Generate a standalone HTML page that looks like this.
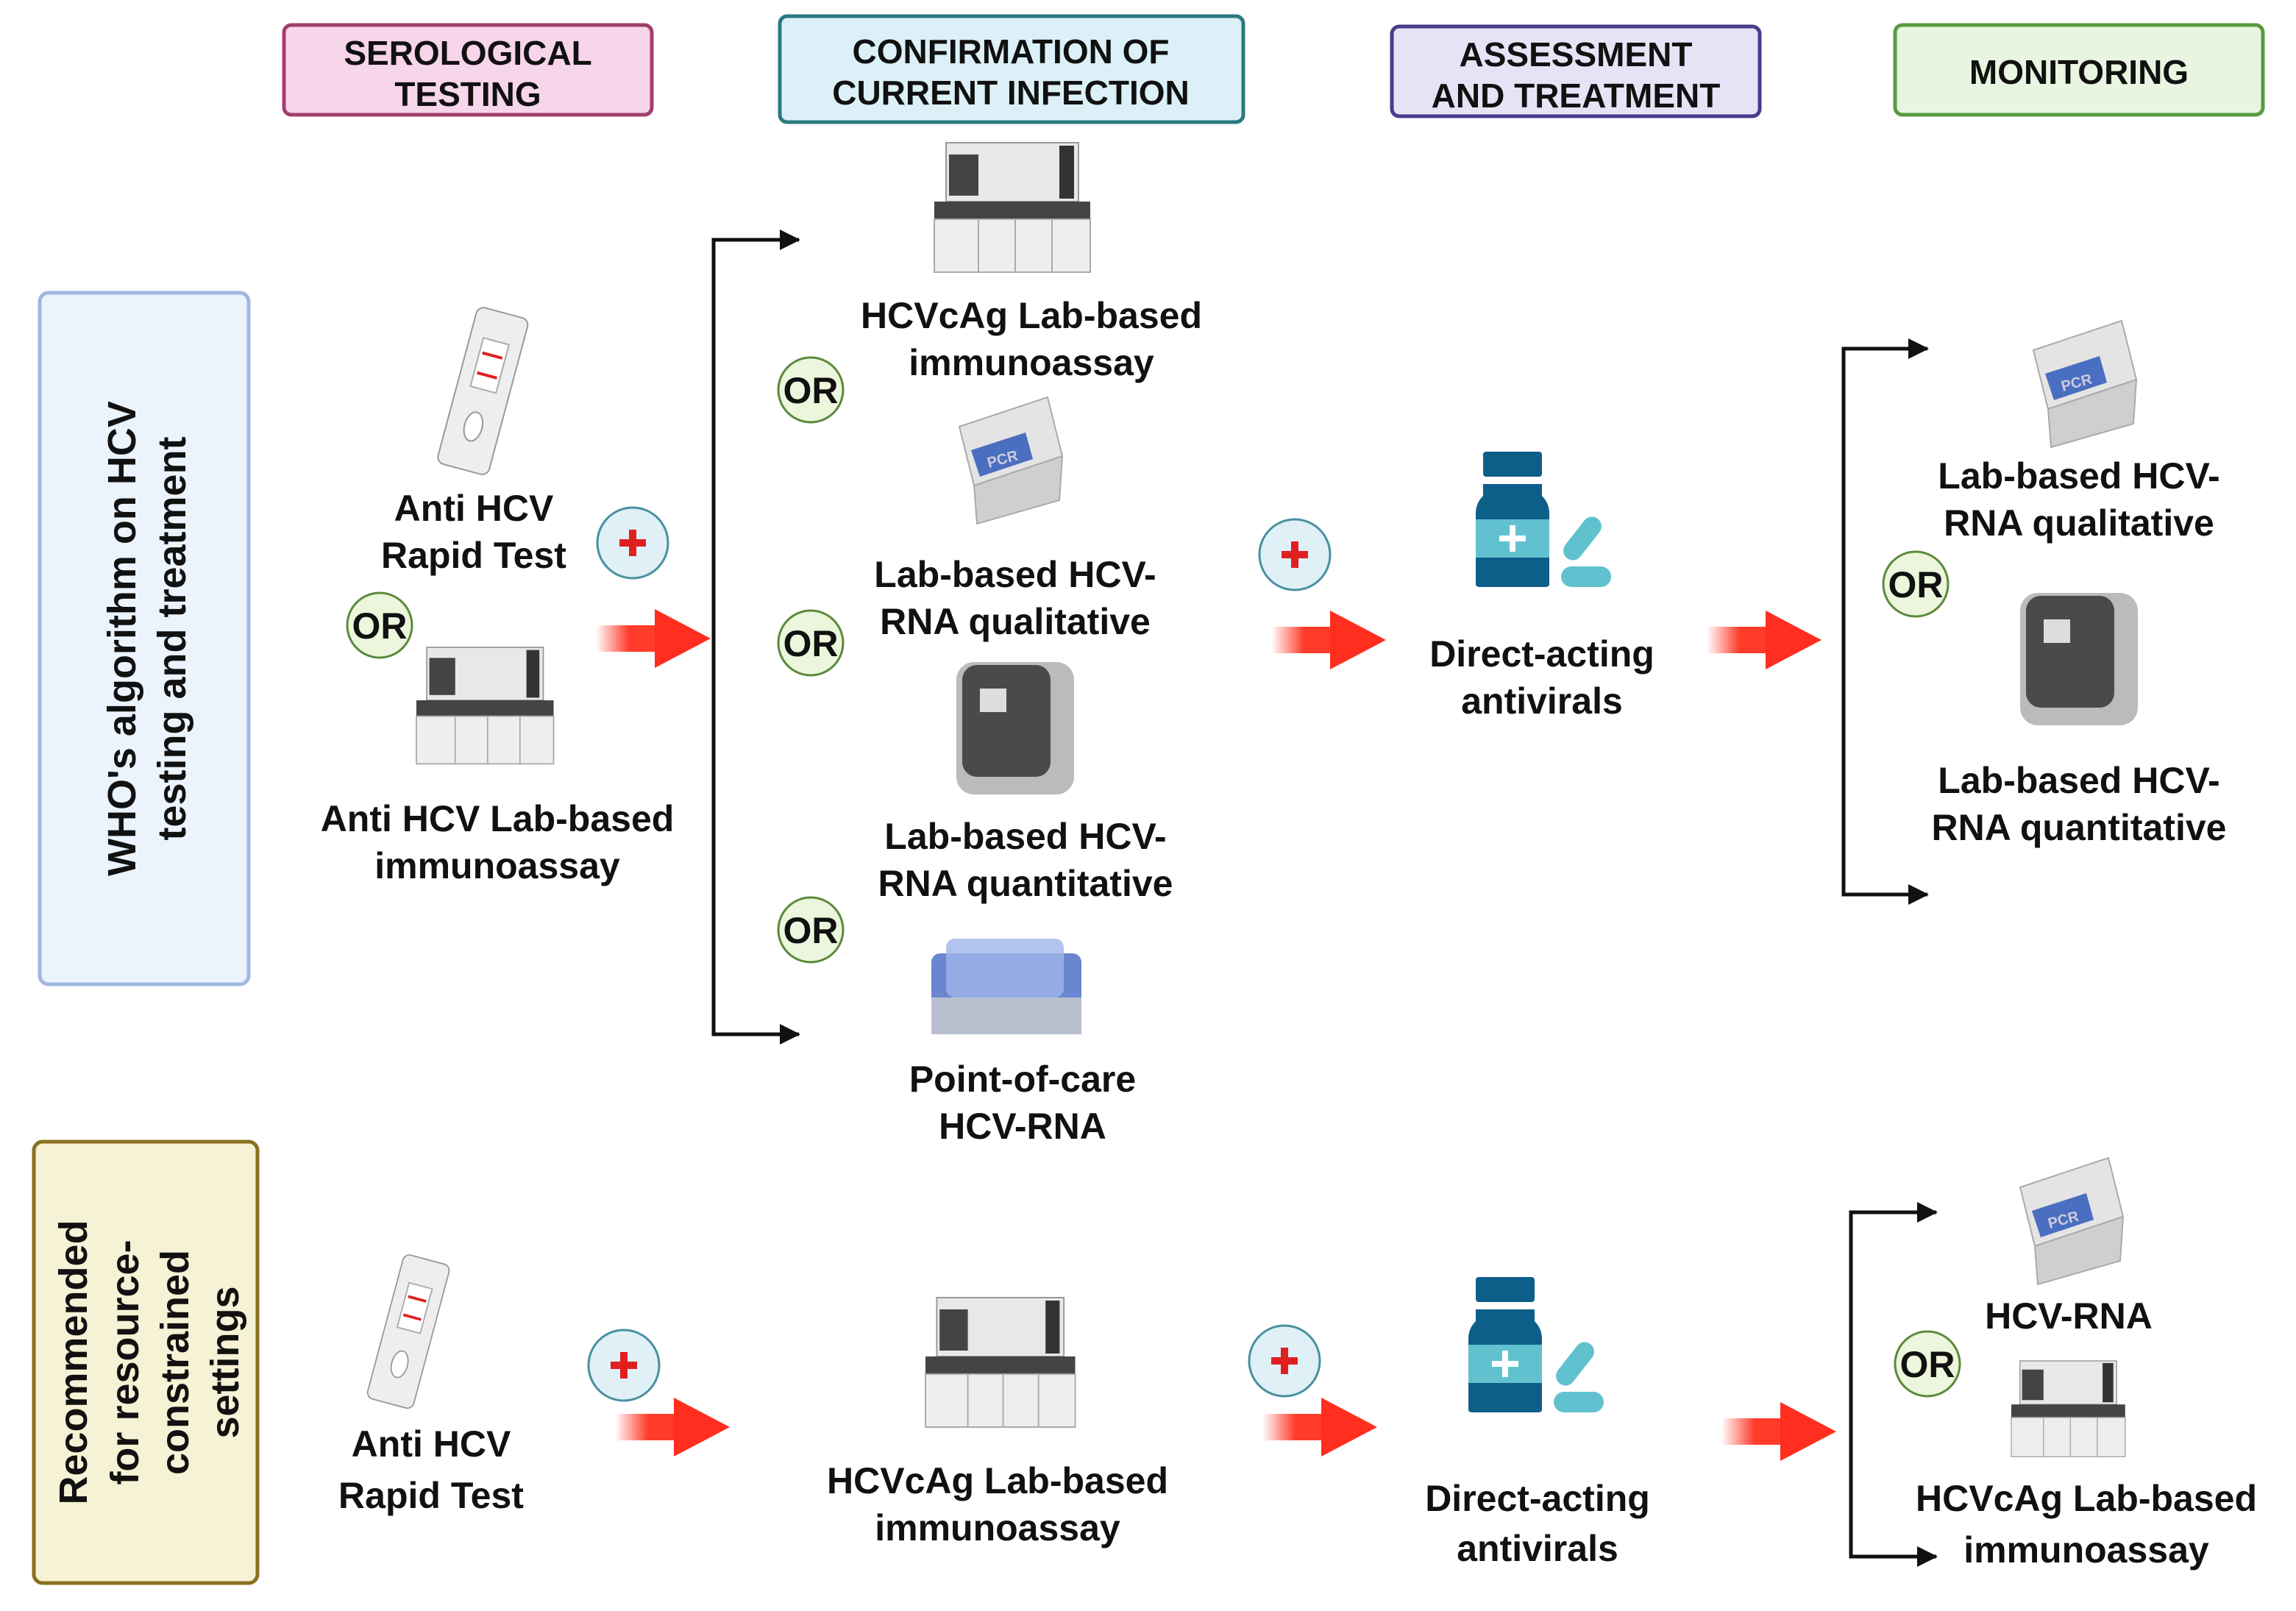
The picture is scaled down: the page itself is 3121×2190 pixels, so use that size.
<!DOCTYPE html>
<html><head><meta charset="utf-8"><style>html,body{margin:0;padding:0;background:#fff}svg{display:block}text{font-family:"Liberation Sans",sans-serif;font-weight:bold;fill:#111}</style></head><body>
<svg width="3121" height="2190" viewBox="0 0 1560.5 1095" xmlns="http://www.w3.org/2000/svg">
<defs>
<linearGradient id="rg" x1="0" x2="1"><stop offset="0" stop-color="#ff3b2a" stop-opacity="0"/><stop offset="0.5" stop-color="#ff3b2a"/></linearGradient>
<g id="redarr"><rect x="0" y="-9" width="45" height="18" fill="url(#rg)"/><polygon points="40,-20 78,0 40,20" fill="#ff2e1f"/></g>
<g id="or"><circle r="22" fill="#ecf6dc" stroke="#5a8a3a" stroke-width="1.5"/><text text-anchor="middle" y="9" font-size="25">OR</text></g>
<g id="plus"><circle r="24" fill="#dff0f7" stroke="#4a90a0" stroke-width="1.5"/><rect x="-9" y="-2.5" width="18" height="5" fill="#e02020"/><rect x="-2.5" y="-9" width="5" height="18" fill="#e02020"/></g>
<g id="analyzer"><rect x="8" y="0" width="90" height="40" fill="#e8e8e8" stroke="#999"/><rect x="10" y="8" width="20" height="28" fill="#444"/><rect x="85" y="2" width="10" height="36" fill="#333"/><rect x="0" y="40" width="106" height="12" fill="#444"/><rect x="0" y="52" width="106" height="36" fill="#eee" stroke="#aaa"/><line x1="30" y1="52" x2="30" y2="88" stroke="#aaa"/><line x1="55" y1="52" x2="55" y2="88" stroke="#aaa"/><line x1="80" y1="52" x2="80" y2="88" stroke="#aaa"/></g>
<g id="pcr"><polygon points="10,20 70,0 80,40 20,60" fill="#e4e4e4" stroke="#aaa"/><polygon points="20,60 80,40 78,70 22,86" fill="#cfcfcf" stroke="#aaa"/><polygon points="18,36 55,24 60,42 24,54" fill="#4a6ec0"/><text x="30" y="48" font-size="10" transform="rotate(-15 30 48)" style="fill:#ccd">PCR</text></g>
<g id="quant"><rect x="0" y="0" width="80" height="90" rx="12" fill="#bbb"/><rect x="4" y="2" width="60" height="76" rx="10" fill="#4a4a4a"/><rect x="16" y="18" width="18" height="16" fill="#ddd"/></g>
<g id="rapid"><rect x="0" y="0" width="36" height="110" rx="5" fill="#eee" stroke="#999"/><rect x="9" y="20" width="18" height="34" fill="#fff" stroke="#aaa"/><line x1="11" y1="30" x2="25" y2="30" stroke="#e02020" stroke-width="2"/><line x1="11" y1="44" x2="25" y2="44" stroke="#e02020" stroke-width="2"/><ellipse cx="18" cy="80" rx="6" ry="10" fill="#fff" stroke="#999"/></g>
<g id="drug"><rect x="5" y="0" width="40" height="17" rx="2" fill="#0d5f8a"/><path d="M5 22 H45 V30 Q50 35 50 42 V90 Q50 92 47 92 H3 Q0 92 0 90 V42 Q0 35 5 30Z" fill="#0d5f8a"/><rect x="0" y="46" width="50" height="26" fill="#62c1cf"/><rect x="23" y="50" width="4" height="18" fill="#fff"/><rect x="16" y="57" width="18" height="4" fill="#fff"/><rect x="66" y="42" width="13" height="34" rx="6.5" fill="#62c1cf" transform="rotate(38 72.5 59)"/><rect x="58" y="78" width="34" height="14" rx="7" fill="#62c1cf"/></g>
</defs>
<rect x="193" y="17" width="250" height="61" rx="5" fill="#f7d5ea" stroke="#a0406a" stroke-width="2.5"/>
<text x="318" y="44" text-anchor="middle" font-size="23">SEROLOGICAL</text><text x="318" y="72" text-anchor="middle" font-size="23">TESTING</text>
<rect x="530" y="11" width="315" height="72" rx="5" fill="#dcf1f7" stroke="#2a7a80" stroke-width="2.5"/>
<text x="687" y="43" text-anchor="middle" font-size="23">CONFIRMATION OF</text><text x="687" y="71" text-anchor="middle" font-size="23">CURRENT INFECTION</text>
<rect x="946" y="18" width="250" height="61" rx="5" fill="#e6e3f7" stroke="#4a3a8a" stroke-width="2.5"/>
<text x="1071" y="45" text-anchor="middle" font-size="23">ASSESSMENT</text><text x="1071" y="73" text-anchor="middle" font-size="23">AND TREATMENT</text>
<rect x="1288" y="17" width="250" height="61" rx="5" fill="#e8f5e0" stroke="#5a9a40" stroke-width="2.5"/>
<text x="1413" y="57" text-anchor="middle" font-size="23">MONITORING</text>
<rect x="27" y="199" width="142" height="470" rx="6" fill="#ebf3fc" stroke="#a0b8e0" stroke-width="2.5"/>
<text transform="translate(92 434) rotate(-90)" text-anchor="middle" font-size="27">WHO's algorithm on HCV</text>
<text transform="translate(126 434) rotate(-90)" text-anchor="middle" font-size="27">testing and treatment</text>
<rect x="23" y="776" width="152" height="300" rx="6" fill="#f5f2d5" stroke="#8a7020" stroke-width="2.5"/>
<text transform="translate(59 926) rotate(-90)" text-anchor="middle" font-size="27">Recommended</text>
<text transform="translate(94 926) rotate(-90)" text-anchor="middle" font-size="27">for resource-</text>
<text transform="translate(128 926) rotate(-90)" text-anchor="middle" font-size="27">constrained</text>
<text transform="translate(162 926) rotate(-90)" text-anchor="middle" font-size="27">settings</text>
<g stroke="#111" stroke-width="2.5" fill="none"><path d="M543 163 H485 V703 H543"/><path d="M1310 237 H1253 V608 H1310"/><path d="M1316 824 H1258 V1058 H1316"/></g>
<g fill="#111"><polygon points="530,156 544,163 530,170"/><polygon points="530,696 544,703 530,710"/><polygon points="1297,230 1311,237 1297,244"/><polygon points="1297,601 1311,608 1297,615"/><polygon points="1303,817 1317,824 1303,831"/><polygon points="1303,1051 1317,1058 1303,1065"/></g>
<use href="#redarr" x="405" y="434"/><use href="#redarr" x="864" y="435"/><use href="#redarr" x="1160" y="435"/><use href="#redarr" x="418" y="970"/><use href="#redarr" x="858" y="970"/><use href="#redarr" x="1170" y="973"/>
<use href="#or" x="258" y="425"/><use href="#or" x="551" y="265"/><use href="#or" x="551" y="437"/><use href="#or" x="551" y="632"/><use href="#or" x="1302" y="397"/><use href="#or" x="1310" y="927"/>
<use href="#plus" x="430" y="369"/><use href="#plus" x="880" y="377"/><use href="#plus" x="424" y="928"/><use href="#plus" x="873" y="925"/>
<use href="#analyzer" transform="translate(635 97)"/>
<use href="#analyzer" transform="translate(283 440) scale(0.88 0.9)"/>
<use href="#analyzer" transform="translate(629 882) scale(0.96 1)"/>
<use href="#analyzer" transform="translate(1367 925) scale(0.73 0.74)"/>
<use href="#pcr" transform="translate(642 270)"/><use href="#pcr" transform="translate(1372 218)"/><use href="#pcr" transform="translate(1363 787)"/>
<use href="#quant" transform="translate(650 450)"/><use href="#quant" transform="translate(1373 403)"/>
<g transform="translate(633 638)"><rect x="0" y="10" width="102" height="52" rx="6" fill="#6a86cf"/><rect x="0" y="40" width="102" height="25" fill="#b8c0d0"/><rect x="10" y="0" width="80" height="40" rx="6" fill="#9fb4e8" opacity="0.8"/></g>
<use href="#rapid" transform="translate(325 208) rotate(15)"/>
<use href="#rapid" transform="translate(275 852) rotate(15) scale(0.9 0.92)"/>
<use href="#drug" transform="translate(1003 307)"/><use href="#drug" transform="translate(998 868)"/>
<g font-size="25" text-anchor="middle">
<text x="322" y="354">Anti HCV</text><text x="322" y="386">Rapid Test</text>
<text x="338" y="565">Anti HCV Lab-based</text><text x="338" y="597">immunoassay</text>
<text x="701" y="223">HCVcAg Lab-based</text><text x="701" y="255">immunoassay</text>
<text x="690" y="399">Lab-based HCV-</text><text x="690" y="431">RNA qualitative</text>
<text x="697" y="577">Lab-based HCV-</text><text x="697" y="609">RNA quantitative</text>
<text x="695" y="742">Point-of-care</text><text x="695" y="774">HCV-RNA</text>
<text x="1048" y="453">Direct-acting</text><text x="1048" y="485">antivirals</text>
<text x="1413" y="332">Lab-based HCV-</text><text x="1413" y="364">RNA qualitative</text>
<text x="1413" y="539">Lab-based HCV-</text><text x="1413" y="571">RNA quantitative</text>
<text x="293" y="990">Anti HCV</text><text x="293" y="1025">Rapid Test</text>
<text x="678" y="1015">HCVcAg Lab-based</text><text x="678" y="1047">immunoassay</text>
<text x="1045" y="1027">Direct-acting</text><text x="1045" y="1061">antivirals</text>
<text x="1406" y="903">HCV-RNA</text>
<text x="1418" y="1027">HCVcAg Lab-based</text><text x="1418" y="1062">immunoassay</text>
</g>
</svg>
</body></html>
